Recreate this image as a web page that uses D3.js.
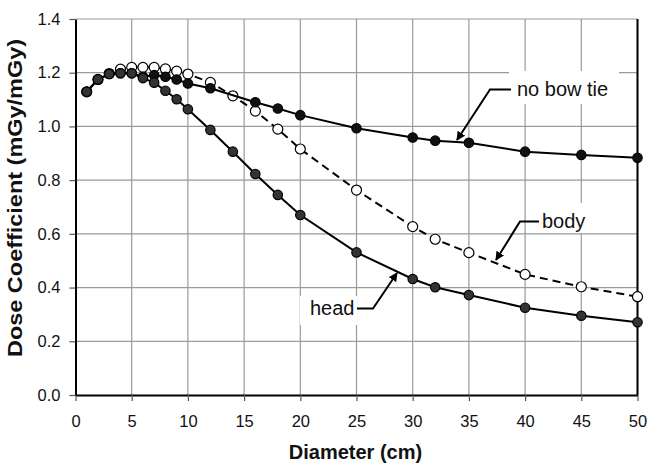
<!DOCTYPE html>
<html>
<head>
<meta charset="utf-8">
<script src="https://cdn.jsdelivr.net/npm/d3@7/dist/d3.min.js"></script>
<style>
  html, body { margin: 0; padding: 0; background: #fff; }
  svg { display: block; font-family: "Liberation Sans", Arial, sans-serif; }
</style>
</head>
<body>
<svg id="chart" width="648" height="464"></svg>
<script>
// Phantom diameter (cm)
const diameters = [1, 2, 3, 4, 5, 6, 7, 8, 9, 10, 12, 14, 16, 18, 20, 25, 30, 32, 35, 40, 45, 50];
const diametersNoBowTie = [1, 2, 3, 4, 5, 6, 7, 8, 9, 10, 12, 16, 18, 20, 25, 30, 32, 35, 40, 45, 50];

// Dose coefficients (mGy/mGy)
const noBowTie = [1.129, 1.175, 1.195, 1.198, 1.198, 1.185, 1.191, 1.185, 1.175, 1.16, 1.142,
                  1.09, 1.067, 1.042, 0.993, 0.959, 0.947, 0.939, 0.906, 0.894, 0.883];
const bodyFilter = [1.129, 1.175, 1.197, 1.213, 1.22, 1.22, 1.22, 1.214, 1.206, 1.195, 1.164, 1.114,
                    1.057, 0.99, 0.916, 0.763, 0.627, 0.58, 0.53, 0.449, 0.403, 0.366];
const headFilter = [1.129, 1.175, 1.195, 1.198, 1.198, 1.18, 1.163, 1.133, 1.101, 1.064, 0.987, 0.906,
                    0.823, 0.745, 0.67, 0.531, 0.432, 0.401, 0.372, 0.325, 0.295, 0.271];

const xTicks = [0, 5, 10, 15, 20, 25, 30, 35, 40, 45, 50];
const yTicks = [0, 0.2, 0.4, 0.6, 0.8, 1.0, 1.2, 1.4];

const svg = d3.select("#chart");
const plotL = 75.5, plotR = 637.5, plotT = 19, plotB = 395;

const x = d3.scaleLinear().domain([0, 50]).range([plotL, plotR]);
const y = d3.scaleLinear().domain([0, 1.4]).range([plotB, plotT]);

// gridlines
const grid = svg.append("g").attr("stroke", "#9a9a9a").attr("stroke-width", 1.2);
grid.selectAll("line.v").data(xTicks.slice(1)).join("line").attr("class", "v")
  .attr("x1", d => x(d)).attr("x2", d => x(d)).attr("y1", plotT).attr("y2", plotB);
grid.selectAll("line.h").data(yTicks.slice(1)).join("line").attr("class", "h")
  .attr("x1", plotL).attr("x2", plotR).attr("y1", d => y(d)).attr("y2", d => y(d));

// axes
const xAxis = svg.append("g").attr("transform", `translate(0,${plotB})`)
  .call(d3.axisBottom(x).tickValues(xTicks).tickSize(6).tickSizeOuter(0).tickPadding(14).tickFormat(d3.format("d")));
const yAxis = svg.append("g").attr("transform", `translate(${plotL},0)`)
  .call(d3.axisLeft(y).tickValues(yTicks).tickSize(6).tickSizeOuter(0).tickPadding(9).tickFormat(d3.format(".1f")));
[xAxis, yAxis].forEach(a => {
  a.select(".domain").attr("stroke", "#000").attr("stroke-width", 2);
  a.selectAll(".tick line").attr("stroke", "#555").attr("stroke-width", 1.2);
  a.selectAll(".tick text").attr("fill", "#111").style("font-size", "16.5px")
    .style("font-family", "'Liberation Sans', Arial, sans-serif");
});
// right frame edge
svg.append("line").attr("x1", plotR).attr("x2", plotR).attr("y1", plotT).attr("y2", plotB)
  .attr("stroke", "#000").attr("stroke-width", 2);

// axis titles
svg.append("text").attr("x", (plotL + plotR) / 2 - 1).attr("y", 459)
  .attr("text-anchor", "middle").style("font-weight", "bold").style("font-size", "20px")
  .attr("fill", "#111").text("Diameter (cm)");
svg.append("text").attr("transform", "translate(22,198) rotate(-90)")
  .attr("text-anchor", "middle").style("font-weight", "bold").style("font-size", "21px")
  .attr("textLength", 318).attr("lengthAdjust", "spacingAndGlyphs")
  .attr("fill", "#111").text("Dose Coefficient (mGy/mGy)");

// label backgrounds and callouts
const labels = [
  { text: "no bow tie", tx: 517, ty: 96, box: [509, 71, 110, 33], path: [[511, 89.5], [490, 89.5], [457, 140]] },
  { text: "body", tx: 542, ty: 228, box: [532, 203, 63, 30], path: [[539, 221.5], [520, 221.5], [496, 260]] },
  { text: "head", tx: 310, ty: 315, box: [300, 296, 57, 29], path: [[357, 308.5], [373, 308.5], [397, 273]] }
];
svg.append("defs").append("marker").attr("id", "arrow")
  .attr("viewBox", "0 0 10 10").attr("refX", 9).attr("refY", 5)
  .attr("markerWidth", 4.5).attr("markerHeight", 4.5).attr("orient", "auto")
  .append("path").attr("d", "M0,0 L10,5 L0,10 z").attr("fill", "#000");

const ann = svg.append("g");
ann.selectAll("rect").data(labels).join("rect")
  .attr("x", d => d.box[0]).attr("y", d => d.box[1]).attr("width", d => d.box[2]).attr("height", d => d.box[3])
  .attr("fill", "#fff");

// series
const line = d3.line().x(d => x(d[0])).y(d => y(d[1]));
const pts = (xs, vals) => xs.map((d, i) => [d, vals[i]]);

const series = [
  { xs: diameters, vals: bodyFilter, dash: "8,5", fill: "#fff", r: 5 },
  { xs: diametersNoBowTie, vals: noBowTie, dash: null, fill: "#111", r: 4.7 },
  { xs: diameters, vals: headFilter, dash: null, fill: "#333", r: 4.7 }
];
series.forEach(s => {
  const g = svg.append("g");
  g.append("path").datum(pts(s.xs, s.vals)).attr("d", line)
    .attr("fill", "none").attr("stroke", "#000").attr("stroke-width", 2)
    .attr("stroke-dasharray", s.dash);
  g.selectAll("circle").data(pts(s.xs, s.vals)).join("circle")
    .attr("cx", d => x(d[0])).attr("cy", d => y(d[1])).attr("r", s.r)
    .attr("fill", s.fill).attr("stroke", "#000").attr("stroke-width", 1.2);
});

const calls = svg.append("g");
calls.selectAll("path").data(labels).join("path")
  .attr("d", d => d3.line()(d.path)).attr("fill", "none")
  .attr("stroke", "#000").attr("stroke-width", 2).attr("marker-end", "url(#arrow)");
calls.selectAll("text").data(labels).join("text")
  .attr("x", d => d.tx).attr("y", d => d.ty).style("font-size", "20px").attr("fill", "#111")
  .text(d => d.text);
</script>
</body>
</html>
